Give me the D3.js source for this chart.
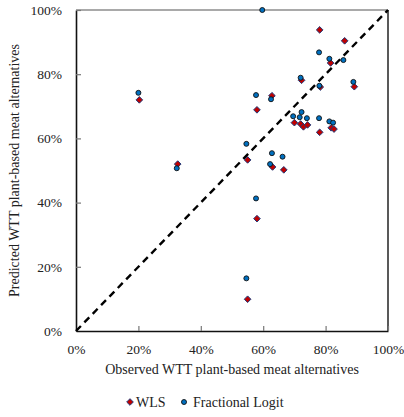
<!DOCTYPE html>
<html>
<head>
<meta charset="utf-8">
<script src="https://cdn.jsdelivr.net/npm/d3@7"></script>
<style>
  html, body { margin: 0; padding: 0; background: #fff; }
  svg text { font-family: "Liberation Serif", "Times New Roman", serif; fill: #222; }
</style>
</head>
<body>
<svg id="chart" width="404" height="417"></svg>
<script>
// Observed vs predicted willingness-to-try shares (percent)
const wlsObserved  = [20.3, 32.6, 78.1, 86.1, 81.6, 72.3, 78.3, 89.2, 62.8, 58.0, 70.0, 72.0, 72.9, 74.2, 78.1, 81.8, 82.7, 55.0, 63.0, 66.6, 58.0, 55.0];
const wlsPredicted = [72.0, 52.0, 93.8, 90.4, 83.5, 78.1, 76.0, 76.1, 73.3, 68.9, 64.9, 64.5, 63.6, 64.2, 61.9, 63.3, 62.9, 53.3, 51.1, 50.2, 35.0, 9.9];

const flObserved  = [20.0, 32.3, 59.7, 77.9, 81.2, 85.7, 72.0, 78.0, 88.9, 57.7, 62.5, 72.3, 69.6, 71.7, 74.0, 77.9, 81.2, 82.4, 54.6, 62.8, 66.2, 62.2, 57.7, 54.6];
const flPredicted = [74.2, 50.7, 100.0, 86.8, 84.8, 84.4, 78.9, 76.4, 77.6, 73.5, 72.2, 68.2, 66.9, 66.6, 66.3, 66.3, 65.3, 64.9, 58.3, 55.4, 54.3, 52.0, 41.3, 16.4];

const tickValues = [0, 20, 40, 60, 80, 100];
const xTitle = "Observed WTT plant-based meat alternatives";
const yTitle = "Predicted WTT plant-based meat alternatives";
const seriesNames = ["WLS", "Fractional Logit"];

const FONT = '"Liberation Serif", "Times New Roman", serif';
const svg = d3.select("#chart");
const m = { left: 76, top: 10, right: 16, bottom: 86 };
const W = 404, H = 417;
const pw = W - m.left - m.right, ph = H - m.top - m.bottom;

const x = d3.scaleLinear().domain([0, 100]).range([m.left, m.left + pw]);
const y = d3.scaleLinear().domain([0, 100]).range([m.top + ph, m.top]);
const fmt = d => d + "%";

// frame: top and right edges
svg.append("line").attr("x1", x(0)).attr("x2", x(100)).attr("y1", y(100)).attr("y2", y(100))
  .attr("stroke", "#8c8c8c").attr("stroke-width", 1.5);
svg.append("line").attr("x1", x(100)).attr("x2", x(100)).attr("y1", y(100)).attr("y2", y(0))
  .attr("stroke", "#222").attr("stroke-width", 1.5);

// axes with inward ticks
const xAxis = svg.append("g").attr("transform", `translate(0,${y(0)})`)
  .call(d3.axisBottom(x).tickValues(tickValues).tickFormat(fmt).tickSizeInner(-5).tickSizeOuter(0).tickPadding(13));
const yAxis = svg.append("g").attr("transform", `translate(${x(0)},0)`)
  .call(d3.axisLeft(y).tickValues(tickValues).tickFormat(fmt).tickSizeInner(-5).tickSizeOuter(0).tickPadding(14));

[xAxis, yAxis].forEach(g => {
  g.attr("font-family", FONT);
  g.select(".domain").attr("stroke", "#111").attr("stroke-width", 1.6);
  g.selectAll(".tick line").attr("stroke", "#777").attr("stroke-width", 1.2);
  g.selectAll(".tick text").attr("font-size", 13.5).attr("fill", "#222").attr("font-family", FONT);
});
xAxis.selectAll(".tick line").filter(d => d === 0).remove();
yAxis.selectAll(".tick line").filter(d => d === 0).remove();

// 45-degree reference line
svg.append("line").attr("x1", x(0)).attr("y1", y(0)).attr("x2", x(100)).attr("y2", y(100))
  .attr("stroke", "#000").attr("stroke-width", 2.4).attr("stroke-dasharray", "7,5");

// WLS diamonds
const diamond = d3.symbol().type(d3.symbolDiamond2).size(28);
svg.append("g").selectAll("path").data(d3.zip(wlsObserved, wlsPredicted)).join("path")
  .attr("d", diamond)
  .attr("transform", d => `translate(${x(d[0])},${y(d[1])})`)
  .attr("fill", "#c00000").attr("stroke", "#1f3a7a").attr("stroke-width", 1);

// Fractional Logit circles
svg.append("g").selectAll("circle").data(d3.zip(flObserved, flPredicted)).join("circle")
  .attr("cx", d => x(d[0])).attr("cy", d => y(d[1])).attr("r", 2.5)
  .attr("fill", "#0070c0").attr("stroke", "#111").attr("stroke-width", 0.9);

// axis titles
svg.append("text").attr("x", (x(0) + x(100)) / 2).attr("y", 374).attr("text-anchor", "middle")
  .attr("font-family", FONT).attr("font-size", 14).text(xTitle);
svg.append("text").attr("transform", `translate(19,${(y(0) + y(100)) / 2}) rotate(-90)`)
  .attr("text-anchor", "middle").attr("font-family", FONT).attr("font-size", 14).text(yTitle);

// legend
const lg = svg.append("g").attr("transform", "translate(0,402)").attr("font-family", FONT);
lg.append("path").attr("d", diamond).attr("transform", "translate(130,0)")
  .attr("fill", "#c00000").attr("stroke", "#1f3a7a").attr("stroke-width", 1);
lg.append("text").attr("x", 136).attr("y", 5).attr("font-size", 14).text(seriesNames[0]);
lg.append("circle").attr("cx", 184).attr("cy", 0).attr("r", 2.5)
  .attr("fill", "#0070c0").attr("stroke", "#111").attr("stroke-width", 0.9);
lg.append("text").attr("x", 193).attr("y", 5).attr("font-size", 14).text(seriesNames[1]);
</script>
</body>
</html>
